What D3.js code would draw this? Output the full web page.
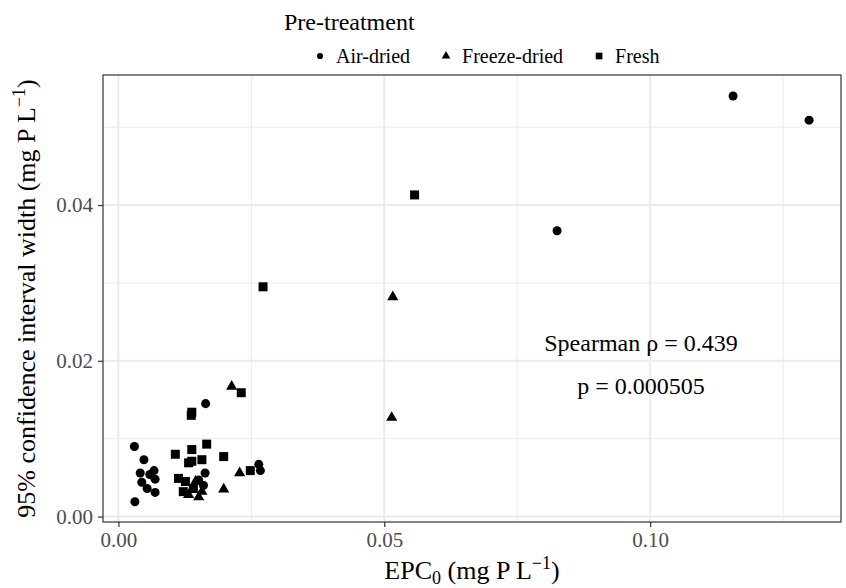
<!DOCTYPE html>
<html>
<head>
<meta charset="utf-8">
<script src="https://cdn.jsdelivr.net/npm/d3@7"></script>
<style>
  body { margin: 0; background: #fff; }
  text { font-family: "Liberation Serif", "DejaVu Serif", serif; }
</style>
</head>
<body>
<div id="chart"></div>
<script>
// EPC0 vs CI width, by pre-treatment
const airDriedX = [0.1156, 0.1299, 0.0825, 0.0164, 0.0030, 0.0048, 0.0041, 0.0067, 0.0069, 0.0044, 0.0054, 0.0069, 0.0031, 0.0059, 0.0264, 0.0267, 0.0163, 0.0151, 0.0160];
const airDriedY = [0.0540, 0.0509, 0.0367, 0.0145, 0.0090, 0.0073, 0.0056, 0.0059, 0.0048, 0.0044, 0.0036, 0.0031, 0.0019, 0.0054, 0.0067, 0.0059, 0.0056, 0.0047, 0.0040];

const freezeDriedX = [0.0516, 0.0514, 0.0213, 0.0228, 0.0198, 0.0132, 0.0151, 0.0157, 0.0145];
const freezeDriedY = [0.0282, 0.0127, 0.0167, 0.0056, 0.0035, 0.0028, 0.0025, 0.0032, 0.0045];

const freshX = [0.0557, 0.0272, 0.0231, 0.0137, 0.0138, 0.0107, 0.0138, 0.0166, 0.0138, 0.0157, 0.0198, 0.0248, 0.0113, 0.0126, 0.0122, 0.0141, 0.0132];
const freshY = [0.0413, 0.0295, 0.0159, 0.0130, 0.0134, 0.0080, 0.0086, 0.0093, 0.0071, 0.0073, 0.0077, 0.0059, 0.0049, 0.0045, 0.0032, 0.0036, 0.0069];

const groups = ['Air-dried', 'Freeze-dried', 'Fresh'];
const xTicks = [0, 0.05, 0.10];
const yTicks = [0, 0.02, 0.04];
const xMinor = [0.025, 0.075, 0.125];
const yMinor = [0.01, 0.03, 0.05];

const width = 846, height = 588;
const margin = {top: 75, right: 5, bottom: 66, left: 103};

const svg = d3.select('#chart').append('svg')
  .attr('width', width)
  .attr('height', height);

const x = d3.scaleLinear().domain([-0.0029, 0.1359]).range([margin.left, width - margin.right]);
const y = d3.scaleLinear().domain([-0.0007, 0.0567]).range([height - margin.bottom, margin.top]);

const shape = d3.scaleOrdinal()
  .domain(groups)
  .range([d3.symbolCircle, d3.symbolTriangle, d3.symbolSquare]);
const symSize = {'Air-dried': 64, 'Freeze-dried': 54, 'Fresh': 81};
const keySize = {'Air-dried': 30, 'Freeze-dried': 32, 'Fresh': 45};

const points = [];
airDriedX.forEach((v, i) => points.push({g: 'Air-dried', x: v, y: airDriedY[i]}));
freezeDriedX.forEach((v, i) => points.push({g: 'Freeze-dried', x: v, y: freezeDriedY[i]}));
freshX.forEach((v, i) => points.push({g: 'Fresh', x: v, y: freshY[i]}));

// grid
const grid = svg.append('g');
function vlines(vals, w) {
  grid.selectAll(null).data(vals).enter().append('line')
    .attr('x1', d => x(d)).attr('x2', d => x(d))
    .attr('y1', margin.top).attr('y2', height - margin.bottom)
    .attr('stroke', '#ebebeb').attr('stroke-width', w);
}
function hlines(vals, w) {
  grid.selectAll(null).data(vals).enter().append('line')
    .attr('x1', margin.left).attr('x2', width - margin.right)
    .attr('y1', d => y(d)).attr('y2', d => y(d))
    .attr('stroke', '#ebebeb').attr('stroke-width', w);
}
vlines(xMinor, 1); hlines(yMinor, 1);
vlines(xTicks, 2); hlines(yTicks, 2);

// axes
const xAxis = svg.append('g')
  .attr('transform', `translate(0,${height - margin.bottom})`)
  .call(d3.axisBottom(x).tickValues(xTicks).tickFormat(d3.format('.2f')).tickSize(5).tickPadding(5));
const yAxis = svg.append('g')
  .attr('transform', `translate(${margin.left},0)`)
  .call(d3.axisLeft(y).tickValues(yTicks).tickFormat(d3.format('.2f')).tickSize(5).tickPadding(5));
[xAxis, yAxis].forEach(a => {
  a.select('.domain').remove();
  a.selectAll('line').attr('stroke', '#333').attr('stroke-width', 1.2);
  a.selectAll('text').attr('fill', '#4d4d4d').style('font-size', '21px')
    .style('font-family', '"Liberation Serif", serif');
});

// points
svg.append('g').selectAll('path')
  .data(points).enter().append('path')
  .attr('transform', d => `translate(${x(d.x)},${y(d.y)})`)
  .attr('d', d => d3.symbol().type(shape(d.g)).size(symSize[d.g])())
  .attr('fill', '#000');

// panel border
svg.append('rect')
  .attr('x', margin.left).attr('y', margin.top)
  .attr('width', width - margin.left - margin.right)
  .attr('height', height - margin.top - margin.bottom)
  .attr('fill', 'none').attr('stroke', '#333').attr('stroke-width', 1.2);

// annotation
const ann = svg.append('text').attr('text-anchor', 'middle').style('font-size', '24px').attr('fill', '#000');
ann.append('tspan').attr('x', 641).attr('y', 351).text('Spearman ρ = 0.439');
ann.append('tspan').attr('x', 641).attr('y', 394).text('p = 0.000505');

// axis titles
const xt = svg.append('text')
  .attr('x', (margin.left + width - margin.right) / 2).attr('y', 579)
  .attr('text-anchor', 'middle').style('font-size', '26px');
xt.append('tspan').text('EPC');
xt.append('tspan').attr('dy', 5).style('font-size', '18px').text('0');
xt.append('tspan').attr('dy', -5).text(' (mg P L');
xt.append('tspan').attr('dy', -10).style('font-size', '18px').text('−1');
xt.append('tspan').attr('dy', 10).text(')');

const yt = svg.append('text')
  .attr('transform', `translate(35,${(margin.top + height - margin.bottom) / 2}) rotate(-90)`)
  .attr('text-anchor', 'middle').style('font-size', '26px');
yt.append('tspan').text('95% confidence interval width (mg P L');
yt.append('tspan').attr('dy', -10).style('font-size', '18px').text('−1');
yt.append('tspan').attr('dy', 10).text(')');

// legend
svg.append('text').attr('x', 284).attr('y', 30).style('font-size', '24px').text('Pre-treatment');
const leg = svg.append('g').attr('transform', 'translate(0,56)');
let kx = 320;
groups.forEach(g => {
  leg.append('path')
    .attr('transform', `translate(${kx},0)`)
    .attr('d', d3.symbol().type(shape(g)).size(keySize[g])())
    .attr('fill', '#000');
  const t = leg.append('text').attr('x', kx + 16).attr('y', 7).style('font-size', '20px').text(g);
  kx += 16 + t.node().getComputedTextLength() + 36;
});
</script>
</body>
</html>
